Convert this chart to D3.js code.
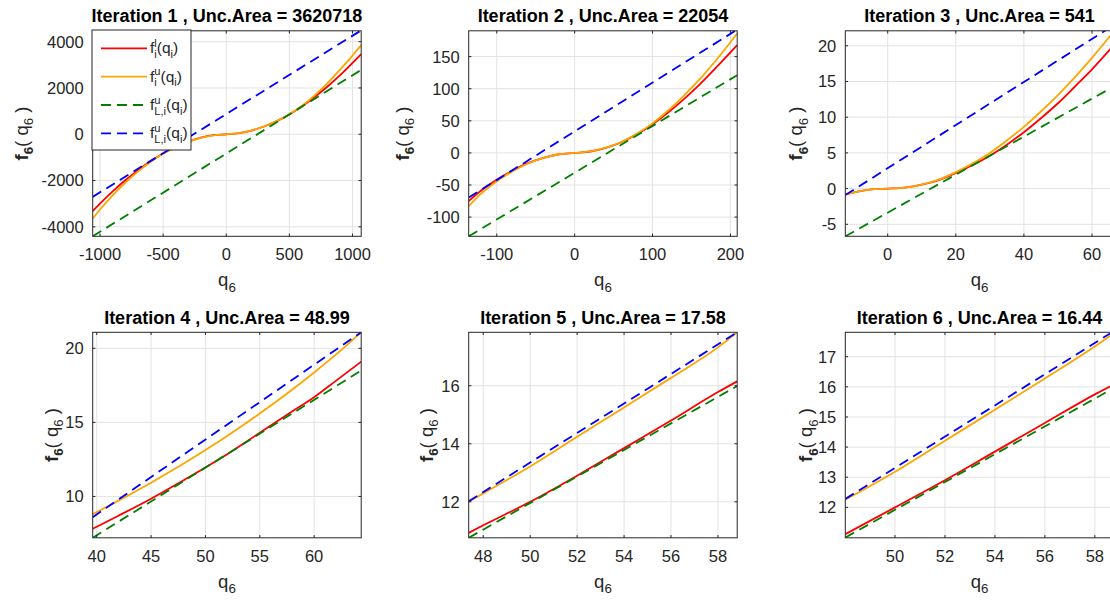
<!DOCTYPE html>
<html>
<head>
<meta charset="utf-8">
<script src="https://cdn.jsdelivr.net/npm/d3@7"></script>
<style>
  html, body { margin: 0; padding: 0; background: #fff; }
  svg { display: block; font-family: "Liberation Sans", Arial, Helvetica, sans-serif; }
</style>
</head>
<body>
<svg id="chart" width="1110" height="601"></svg>
<script>
// ---------------- data ----------------
const titles = [
  "Iteration 1 , Unc.Area = 3620718",
  "Iteration 2 , Unc.Area = 22054",
  "Iteration 3 , Unc.Area = 541",
  "Iteration 4 , Unc.Area = 48.99",
  "Iteration 5 , Unc.Area = 17.58",
  "Iteration 6 , Unc.Area = 16.44"
];

// axis limits per iteration
const xLimits = [[-1058, 1069], [-136, 208.7], [-12.45, 66.4], [39.63, 64.33], [47.38, 58.82], [48.01, 58.76]];
const yLimits = [[-4410, 4470], [-129.9, 190.2], [-6.68, 22.1], [7.21, 21.08], [10.76, 17.84], [10.99, 17.81]];

const xTickVals = [
  [-1000, -500, 0, 500, 1000],
  [-100, 0, 100, 200],
  [0, 20, 40, 60],
  [40, 45, 50, 55, 60],
  [48, 50, 52, 54, 56, 58],
  [50, 52, 54, 56, 58]
];
const yTickVals = [
  [-4000, -2000, 0, 2000, 4000],
  [-100, -50, 0, 50, 100, 150],
  [-5, 0, 5, 10, 15, 20],
  [10, 15, 20],
  [12, 14, 16],
  [12, 13, 14, 15, 16, 17]
];

// q samples shared by both bound curves of each iteration
const qSamples = [
  [-1058, -1000, -900, -800, -700, -600, -500, -400, -300, -200, -100, 0, 100, 200, 300, 400, 500, 600, 700, 800, 900, 1000, 1069],
  [-136, -120, -100, -80, -60, -40, -20, 0, 20, 40, 60, 80, 100, 120, 140, 160, 180, 208.7],
  [-12.45, -8, -4, 0, 5, 10, 15, 20, 25, 30, 35, 40, 45, 50, 55, 60, 66.4],
  [39.63, 42, 45, 48, 50, 52, 55, 58, 60, 62, 64.33],
  [47.38, 48, 50, 52, 54, 56, 58, 58.82],
  [48.01, 50, 52, 54, 56, 58, 58.76]
];

// lower bound f^l_i (red)
const fLower = [
  [-3320, -3000, -2470, -1990, -1560, -1170, -830, -545, -320, -150, -42, 0, 45, 160, 335, 565, 855, 1210, 1610, 2050, 2540, 3080, 3466],
  [-75, -58.5, -42, -28, -16, -7.6, -2.1, 0, 2.2, 7.9, 16.6, 29, 44.7, 63, 83.5, 106, 131, 168],
  [-0.8, -0.35, -0.08, 0, 0.15, 0.55, 1.2, 2.2, 3.3, 4.6, 6.15, 7.9, 9.85, 11.95, 14.3, 16.7, 20.1],
  [7.82, 8.7, 9.85, 11.1, 11.95, 12.85, 14.3, 15.75, 16.7, 17.8, 19.1],
  [10.93, 11.19, 12.0, 12.9, 13.85, 14.8, 15.78, 16.15],
  [11.11, 12.0, 12.9, 13.85, 14.8, 15.75, 16.08]
];

// upper bound f^u_i (orange)
const fUpper = [
  [-3640, -3250, -2640, -2095, -1615, -1200, -845, -560, -330, -160, -45, 0, 45, 165, 340, 570, 865, 1230, 1680, 2200, 2780, 3400, 3850],
  [-83, -63.5, -44, -29, -16.5, -7.8, -2.1, 0, 2.3, 8.1, 17, 30, 46, 66, 89, 114, 142, 186],
  [-0.8, -0.35, -0.08, 0, 0.15, 0.56, 1.25, 2.3, 3.55, 5.0, 6.75, 8.65, 10.8, 13.1, 15.6, 18.3, 22.0],
  [8.8, 9.72, 10.93, 12.22, 13.13, 14.08, 15.6, 17.22, 18.37, 19.57, 21.08],
  [12.0, 12.29, 13.22, 14.24, 15.25, 16.27, 17.32, 17.84],
  [12.25, 13.18, 14.21, 15.24, 16.28, 17.34, 17.78]
];

// linear bounds f^u_{L,i}: end points [[q0, f0], [q1, f1]]
const lowerLine = [
  [[-1058, -4410], [1069, 2781]],
  [[-136, -129.9], [208.7, 121.1]],
  [[-12.45, -6.68], [66.4, 14.3]],
  [[39.63, 7.21], [64.33, 18.5]],
  [[47.38, 10.76], [58.82, 15.99]],
  [[48.01, 11.0], [58.76, 15.96]]
];
const upperLine = [
  [[-1058, -2706], [1069, 4490]],
  [[-136, -69.6], [208.7, 192]],
  [[-12.45, -0.9], [66.4, 22.9]],
  [[39.63, 8.6], [64.33, 21.08]],
  [[47.38, 12.02], [58.82, 17.84]],
  [[48.01, 12.28], [58.76, 17.85]]
];

// ---------------- layout ----------------
const colLeft = [92.7, 468.7, 845.3];
const rowTop = [30.8, 332.3];
const pw = 268.5, ph = 205.5;
const ylabOffset = [65, 60, 43, 35, 36, 33];

const INK = "#262626";
const GRID = "#e3e3e3";
const C_LOW = "#ff0000", C_UP = "#ffa500", C_LLIN = "#008000", C_ULIN = "#0000ff";
const DASH = "10,6";
const LW = 1.8;

const svg = d3.select("#chart");

// Draws a run of text pieces (with sub/superscripts) and returns its width.
function rich(parent, pieces, size, fill) {
  const g = parent.append("g");
  let x = 0, prevStart = 0, prevW = 0;
  pieces.forEach(p => {
    const fs = size * (p.scale || 1);
    const start = p.stack ? prevStart : x;
    const t = g.append("text")
      .attr("x", start)
      .attr("y", (p.dy || 0) * size)
      .attr("font-size", fs)
      .attr("font-weight", p.bold ? "bold" : "normal")
      .attr("fill", fill || INK)
      .attr("xml:space", "preserve")
      .text(p.t);
    const w = t.node().getComputedTextLength();
    x = p.stack ? start + Math.max(prevW, w) : start + w;
    prevStart = start; prevW = w;
  });
  return { g, width: x };
}

const SUB = 0.3, SUP = -0.42, SC = 0.72;

titles.forEach((title, i) => {
  const col = i % 3, row = Math.floor(i / 3);
  const x0 = colLeft[col], y0 = rowTop[row];
  const xs = d3.scaleLinear().domain(xLimits[i]).range([x0, x0 + pw]);
  const ys = d3.scaleLinear().domain(yLimits[i]).range([y0 + ph, y0]);
  const g = svg.append("g");

  // background + grid
  g.append("rect").attr("x", x0).attr("y", y0).attr("width", pw).attr("height", ph).attr("fill", "#fff");
  g.selectAll(".gx").data(xTickVals[i]).enter().append("line")
    .attr("x1", d => xs(d)).attr("x2", d => xs(d))
    .attr("y1", y0).attr("y2", y0 + ph)
    .attr("stroke", GRID).attr("stroke-width", 1);
  g.selectAll(".gy").data(yTickVals[i]).enter().append("line")
    .attr("x1", x0).attr("x2", x0 + pw)
    .attr("y1", d => ys(d)).attr("y2", d => ys(d))
    .attr("stroke", GRID).attr("stroke-width", 1);

  // clip region for the curves
  const clipId = "clip" + i;
  svg.append("clipPath").attr("id", clipId).append("rect")
    .attr("x", x0).attr("y", y0).attr("width", pw).attr("height", ph);
  const plot = g.append("g").attr("clip-path", `url(#${clipId})`);

  const curve = d3.line().x(d => xs(d[0])).y(d => ys(d[1])).curve(d3.curveMonotoneX);
  const straight = d3.line().x(d => xs(d[0])).y(d => ys(d[1]));

  const low = qSamples[i].map((q, k) => [q, fLower[i][k]]);
  const up = qSamples[i].map((q, k) => [q, fUpper[i][k]]);

  plot.append("path").attr("d", curve(low)).attr("fill", "none").attr("stroke", C_LOW).attr("stroke-width", LW);
  plot.append("path").attr("d", curve(up)).attr("fill", "none").attr("stroke", C_UP).attr("stroke-width", LW);
  plot.append("path").attr("d", straight(lowerLine[i])).attr("fill", "none").attr("stroke", C_LLIN)
    .attr("stroke-width", LW).attr("stroke-dasharray", DASH);
  plot.append("path").attr("d", straight(upperLine[i])).attr("fill", "none").attr("stroke", C_ULIN)
    .attr("stroke-width", LW).attr("stroke-dasharray", DASH);

  // axes box with inward ticks on all four sides
  const tl = 2.7;
  g.append("rect").attr("x", x0).attr("y", y0).attr("width", pw).attr("height", ph)
    .attr("fill", "none").attr("stroke", INK).attr("stroke-width", 1);
  xTickVals[i].forEach(v => {
    const x = xs(v);
    g.append("line").attr("x1", x).attr("x2", x).attr("y1", y0 + ph).attr("y2", y0 + ph - tl).attr("stroke", INK);
    g.append("line").attr("x1", x).attr("x2", x).attr("y1", y0).attr("y2", y0 + tl).attr("stroke", INK);
    g.append("text").attr("x", x).attr("y", y0 + ph + 24).attr("text-anchor", "middle")
      .attr("font-size", 16.5).attr("fill", INK).text(String(v));
  });
  yTickVals[i].forEach(v => {
    const y = ys(v);
    g.append("line").attr("x1", x0).attr("x2", x0 + tl).attr("y1", y).attr("y2", y).attr("stroke", INK);
    g.append("line").attr("x1", x0 + pw).attr("x2", x0 + pw - tl).attr("y1", y).attr("y2", y).attr("stroke", INK);
    g.append("text").attr("x", x0 - 9).attr("y", y).attr("dy", "0.36em").attr("text-anchor", "end")
      .attr("font-size", 16.5).attr("fill", INK).text(String(v));
  });

  // title
  g.append("text").attr("x", x0 + pw / 2).attr("y", y0 - 8.5).attr("text-anchor", "middle")
    .attr("font-size", 18).attr("font-weight", "bold").attr("fill", "#000").text(title);

  // x label q_6
  const xl = rich(g, [{ t: "q" }, { t: "6", scale: SC, dy: SUB }], 18.5);
  xl.g.attr("transform", `translate(${x0 + pw / 2 - xl.width / 2},${y0 + ph + 50})`);

  // y label f_6( q_6 )
  const yHolder = g.append("g").attr("transform", `translate(${x0 - ylabOffset[i]},${y0 + ph / 2}) rotate(-90)`);
  const yl = rich(yHolder, [
    { t: "f", bold: true }, { t: "6", bold: true, scale: SC, dy: SUB },
    { t: "( q" }, { t: "6", scale: SC, dy: SUB }, { t: " )" }
  ], 18.5);
  yl.g.attr("transform", `translate(${-yl.width / 2},0)`);

  // legend in the first iteration
  if (i === 0) {
    const lg = g.append("g");
    lg.append("rect").attr("x", 92).attr("y", 30).attr("width", 99).attr("height", 120)
      .attr("fill", "#fff").attr("stroke", INK).attr("stroke-width", 1);
    const entries = [
      { color: C_LOW, dash: null, sup: "l", sub: "i" },
      { color: C_UP, dash: null, sup: "u", sub: "i" },
      { color: C_LLIN, dash: DASH, sup: "u", sub: "L,i" },
      { color: C_ULIN, dash: DASH, sup: "u", sub: "L,i" }
    ];
    entries.forEach((e, k) => {
      const ly = 48.3 + k * 28.35;
      lg.append("line").attr("x1", 101).attr("x2", 147).attr("y1", ly).attr("y2", ly)
        .attr("stroke", e.color).attr("stroke-width", LW).attr("stroke-dasharray", e.dash);
      const lt = rich(lg, [
        { t: "f" }, { t: e.sup, scale: SC, dy: SUP }, { t: e.sub, scale: SC, dy: SUB, stack: true },
        { t: "(q" }, { t: "i", scale: SC, dy: SUB }, { t: ")" }
      ], 15.5);
      lt.g.attr("transform", `translate(150,${ly + 5})`);
    });
  }
});
</script>
</body>
</html>
